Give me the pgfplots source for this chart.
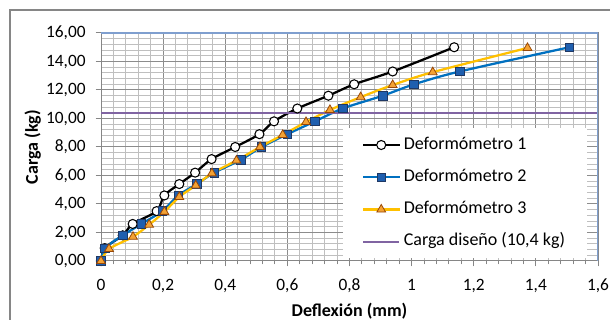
\documentclass[border=0pt]{standalone}
\usepackage{pgfplots}
\pgfplotsset{compat=1.18}
\usepackage{fontspec}
\setmainfont{Carlito}
\definecolor{majgrid}{HTML}{8C8C8C}
\definecolor{mingrid}{HTML}{BFBFBF}
\definecolor{axgray}{HTML}{868686}
\definecolor{boxblue}{HTML}{7F9FCF}
\definecolor{s2line}{HTML}{0070C0}
\definecolor{s2fill}{HTML}{1F5FAF}
\definecolor{s2edge}{HTML}{1F3864}
\definecolor{s3line}{HTML}{FFC000}
\definecolor{s3fill}{HTML}{F4A234}
\definecolor{s3edge}{HTML}{984807}
\definecolor{dis}{HTML}{8064A2}
\begin{document}
\begin{tikzpicture}
\path[use as bounding box] (0,0) rectangle (457.5pt,240pt);
\draw[axgray, line width=0.8pt] (7.5pt,-10pt) -- (7.5pt,232.5pt) -- (470pt,232.5pt);
\begin{axis}[
  at={(75.75pt,44.25pt)}, anchor=south west,
  scale only axis, width=372.75pt, height=171pt,
  xmin=0, xmax=1.6, ymin=0, ymax=16,
  xtick={0,0.2,...,1.6}, ytick={0,2,...,16},
  minor x tick num=4, minor y tick num=4,
  grid=both,
  major grid style={majgrid, line width=0.75pt},
  minor grid style={mingrid, line width=0.75pt},
  axis line style={axgray, line width=0.75pt},
  tick align=outside, xtick pos=bottom, ytick pos=left,
  major tick length=4pt, minor tick length=2.5pt,
  tick style={axgray, line width=0.75pt},
  minor y tick style={draw=none},
  /pgf/number format/assume math mode=true,
  ticklabel style={font=\fontsize{13}{15}\selectfont},
  yticklabel={\pgfmathprintnumber[fixed, fixed zerofill, precision=2, use comma]{\tick}},
  xticklabel={\pgfmathprintnumber[fixed, precision=1, use comma]{\tick}},
  yticklabel style={xshift=-4pt},
  xticklabel style={yshift=-6pt},
  xlabel={\bfseries Deflexión (mm)},
  ylabel={\bfseries Carga (kg)},
  label style={font=\fontsize{13.5}{15}\selectfont\bfseries},
  xlabel style={yshift=-1pt},
  ylabel style={yshift=-3pt},
  legend style={at={(0.487,0.583)}, anchor=north west, draw=none, fill=white,
    inner xsep=14pt, inner ysep=5.5pt, row sep=10.2pt,
    font=\fontsize{13.5}{15}\selectfont,
    nodes={inner ysep=1pt, inner xsep=2.5pt, text height=9pt, text depth=3pt},
    },
  legend cell align=left,
  legend image code/.code={\draw[mark repeat=2,mark phase=2,#1] plot coordinates {(0pt,0pt)(13.5pt,0pt)(27pt,0pt)};},
]
\addplot[black, line width=1.7pt, smooth, tension=0.5, mark=*, mark size=3.4pt,
  mark options={fill=white, draw=black, line width=0.8pt}] coordinates {
(0,0) (0.012,0.9) (0.07,1.8) (0.102,2.6) (0.179,3.5) (0.204,4.6) (0.252,5.4) (0.303,6.2) (0.356,7.15) (0.432,8.0) (0.51,8.9) (0.557,9.8) (0.632,10.7) (0.732,11.6) (0.815,12.4) (0.939,13.3) (1.137,15.0)
};
\addlegendentry{Deformómetro 1}
\addplot[s2line, line width=1.7pt, smooth, tension=0.5, mark=square*, mark size=3.2pt,
  mark options={fill=s2fill, draw=s2edge, line width=0.6pt}] coordinates {
(0,0) (0.013,0.9) (0.07,1.8) (0.13,2.6) (0.197,3.5) (0.249,4.6) (0.308,5.4) (0.365,6.2) (0.45,7.1) (0.517,8.0) (0.6,8.9) (0.689,9.8) (0.778,10.7) (0.907,11.6) (1.008,12.4) (1.155,13.3) (1.508,15.0)
};
\addlegendentry{Deformómetro 2}
\addplot[s3line, line width=1.7pt, smooth, tension=0.5, mark=triangle*, mark size=3.8pt,
  mark options={fill=s3fill, draw=s3edge, line width=0.6pt}] coordinates {
(0,0) (0.026,0.85) (0.103,1.7) (0.155,2.55) (0.204,3.45) (0.252,4.5) (0.305,5.3) (0.357,6.15) (0.436,7.05) (0.512,8.0) (0.585,8.85) (0.66,9.75) (0.737,10.6) (0.836,11.5) (0.939,12.35) (1.068,13.25) (1.373,14.95)
};
\addlegendentry{Deformómetro 3}
\addplot[dis, line width=1.9pt] coordinates {(0,10.4) (1.6,10.4)};
\addlegendentry{Carga diseño (10,4 kg)}
\draw[boxblue, line width=0.9pt] (rel axis cs:0,1) -- (rel axis cs:1,1) -- (rel axis cs:1,0);
\end{axis}
\end{tikzpicture}
\end{document}
